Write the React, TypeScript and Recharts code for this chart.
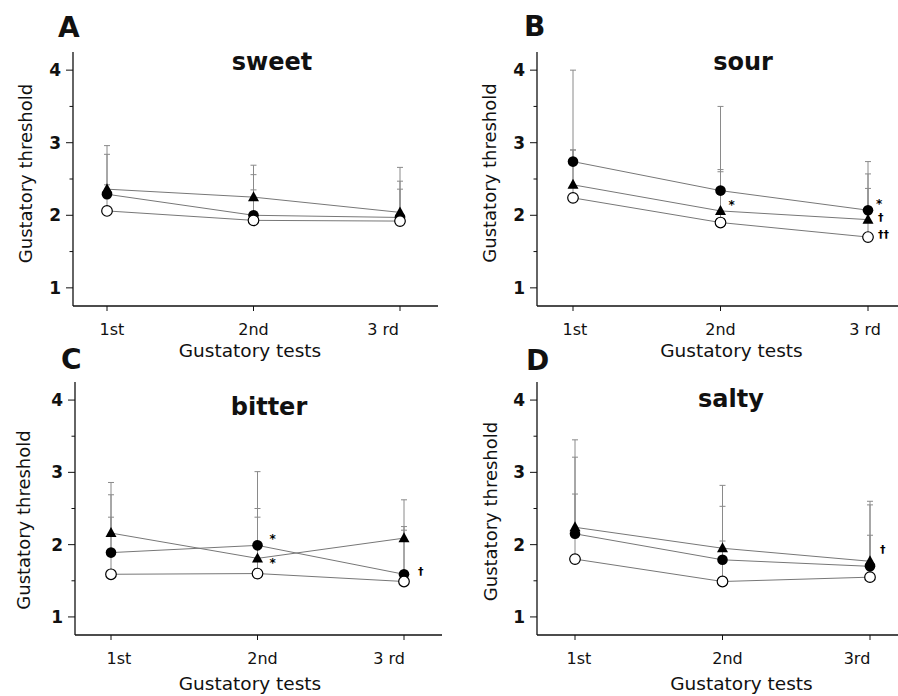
import React from "react";
import { LineChart, Line, XAxis, YAxis, ErrorBar, LabelList } from "recharts";

const FONT = "'DejaVu Sans', sans-serif";

const tests = ["1st", "2nd", "3 rd"];
const testsSalty = ["1st", "2nd", "3rd"];
const yTicks = [1, 1.5, 2, 2.5, 3, 3.5, 4];

// sweet (A)
const sweetTriangle = [2.36, 2.25, 2.04];
const sweetTriangleTop = [2.96, 2.69, 2.66];
const sweetFilled = [2.29, 2.0, 1.97];
const sweetFilledTop = [2.84, 2.56, 2.47];
const sweetOpen = [2.06, 1.93, 1.92];
const sweetOpenTop = [2.42, 2.35, 2.36];

// sour (B)
const sourTriangle = [2.42, 2.06, 1.94];
const sourTriangleTop = [2.9, 2.63, 2.57];
const sourFilled = [2.74, 2.34, 2.07];
const sourFilledTop = [4.0, 3.5, 2.74];
const sourOpen = [2.24, 1.9, 1.7];
const sourOpenTop = [2.9, 2.6, 2.37];
const sourTriangleMarks = ["", "*", "†"];
const sourFilledMarks = ["", "", "*"];
const sourOpenMarks = ["", "", "††"];

// bitter (C)
const bitterTriangle = [2.16, 1.81, 2.09];
const bitterTriangleTop = [2.86, 2.38, 2.62];
const bitterFilled = [1.89, 1.99, 1.59];
const bitterFilledTop = [2.69, 3.01, 2.25];
const bitterOpen = [1.59, 1.6, 1.49];
const bitterOpenTop = [2.38, 2.5, 2.2];
const bitterTriangleMarks = ["", "*", ""];
const bitterFilledMarks = ["", "*", "†"];

// salty (D)
const saltyTriangle = [2.24, 1.95, 1.77];
const saltyTriangleTop = [3.45, 2.82, 2.6];
const saltyFilled = [2.15, 1.79, 1.7];
const saltyFilledTop = [3.21, 2.53, 2.55];
const saltyOpen = [1.8, 1.49, 1.55];
const saltyOpenTop = [2.7, 2.05, 2.13];
const saltyTriangleMarks = ["", "", "†"];

const none = ["", "", ""];

const panels = [
  {
    letter: "A", title: "sweet", categories: tests,
    tri: sweetTriangle, triTop: sweetTriangleTop, triMarks: none,
    fil: sweetFilled, filTop: sweetFilledTop, filMarks: none,
    opn: sweetOpen, opnTop: sweetOpenTop, opnMarks: none,
    layout: {
      left: 0, top: 0, yAxisWidth: 73, marginTop: 52, marginRight: 11, xAxisHeight: 42,
      padLeft: 34, padRight: 38, tickDx: [5, 0, -17], triMarkDy: 0, filMarkDx: 0,
      letterAt: [58, 37], titleAt: [272, 70], yLabelAt: [31.5, 173.5], xLabelAt: [250, 357],
    },
  },
  {
    letter: "B", title: "sour", categories: tests,
    tri: sourTriangle, triTop: sourTriangleTop, triMarks: sourTriangleMarks,
    fil: sourFilled, filTop: sourFilledTop, filMarks: sourFilledMarks,
    opn: sourOpen, opnTop: sourOpenTop, opnMarks: sourOpenMarks,
    layout: {
      left: 449, top: 0, yAxisWidth: 88, marginTop: 52, marginRight: 0, xAxisHeight: 42,
      padLeft: 36, padRight: 30, tickDx: [2, 0, -3], triMarkDy: 0, filMarkDx: 0,
      letterAt: [524, 36], titleAt: [743, 70], yLabelAt: [495.5, 173], xLabelAt: [731.5, 357],
    },
  },
  {
    letter: "C", title: "bitter", categories: tests,
    tri: bitterTriangle, triTop: bitterTriangleTop, triMarks: bitterTriangleMarks,
    fil: bitterFilled, filTop: bitterFilledTop, filMarks: bitterFilledMarks,
    opn: bitterOpen, opnTop: bitterOpenTop, opnMarks: none,
    layout: {
      left: 0, top: 348, yAxisWidth: 75, marginTop: 34, marginRight: 7, xAxisHeight: 61,
      padLeft: 36, padRight: 38, tickDx: [8, 5, -15], triMarkDy: 11, filMarkDx: 4,
      letterAt: [61, 369], titleAt: [269, 415], yLabelAt: [29.5, 520], xLabelAt: [250, 689.5],
    },
  },
  {
    letter: "D", title: "salty", categories: testsSalty,
    tri: saltyTriangle, triTop: saltyTriangleTop, triMarks: saltyTriangleMarks,
    fil: saltyFilled, filTop: saltyFilledTop, filMarks: none,
    opn: saltyOpen, opnTop: saltyOpenTop, opnMarks: none,
    layout: {
      left: 449, top: 348, yAxisWidth: 88, marginTop: 34, marginRight: 0, xAxisHeight: 61,
      padLeft: 38, padRight: 28, tickDx: [4, 5, -13], triMarkDy: -9, filMarkDx: 0,
      letterAt: [526, 370], titleAt: [731, 407], yLabelAt: [496.5, 511.5], xLabelAt: [741.5, 690],
    },
  },
];

const TriangleDot = (props: any) => {
  const { cx, cy, index } = props;
  if (cx == null || cy == null) return <g key={`t${index}`} />;
  return (
    <polygon
      key={`t${index}`}
      points={`${cx},${cy - 6} ${cx - 5.5},${cy + 4} ${cx + 5.5},${cy + 4}`}
      fill="#000"
    />
  );
};

const FilledDot = (props: any) => {
  const { cx, cy, index } = props;
  if (cx == null || cy == null) return <g key={`f${index}`} />;
  return <circle key={`f${index}`} cx={cx} cy={cy} r={5.3} fill="#000" />;
};

const OpenDot = (props: any) => {
  const { cx, cy, index } = props;
  if (cx == null || cy == null) return <g key={`o${index}`} />;
  return <circle key={`o${index}`} cx={cx} cy={cy} r={5.3} fill="#fff" stroke="#000" strokeWidth={1.2} />;
};

// significance marks to the right of a point; shifts are per panel
const markRenderer = (shiftX: number, shiftY: number) => (props: any) => {
  const { value } = props;
  if (!value) return null;
  const vb = props.viewBox || {};
  const x = vb.x ?? props.x;
  const y = vb.y ?? props.y;
  const star = String(value).includes("*");
  return (
    <text
      x={x + (star ? 8 : 10) + shiftX}
      y={y + (star ? -2 : 1) + shiftY}
      fontSize={star ? 12 : 11}
      fontWeight="bold"
      fontFamily={FONT}
      fill="#000"
    >
      {value}
    </text>
  );
};

const XTick = (props: any) => {
  const { x, y, payload, index, dxs } = props;
  return (
    <text
      x={x + (dxs?.[index] ?? 0)}
      y={y}
      dy="0.71em"
      textAnchor="middle"
      fontSize={16}
      fontFamily={FONT}
      fill="#111"
    >
      {payload.value}
    </text>
  );
};

// tickSize 7 + tickMargin 5 => axis line sits 12px right of x
const YTick = (props: any) => {
  const { x, y, payload } = props;
  const axisX = x + 12;
  const major = Number.isInteger(payload.value);
  return (
    <g>
      <line x1={axisX - (major ? 7 : 3.5)} x2={axisX} y1={y} y2={y} stroke="#111" strokeWidth={1} />
      {major && (
        <text x={x} y={y} dy="0.36em" textAnchor="end" fontSize={17} fontWeight="bold" fontFamily={FONT} fill="#111">
          {payload.value}
        </text>
      )}
    </g>
  );
};

const Panel = ({ p }: { p: any }) => {
  const L = p.layout;
  const rows = p.categories.map((c: string, i: number) => ({
    test: c,
    tri: p.tri[i],
    triErr: [0, p.triTop[i] - p.tri[i]],
    triMark: p.triMarks[i],
    fil: p.fil[i],
    filErr: [0, p.filTop[i] - p.fil[i]],
    filMark: p.filMarks[i],
    opn: p.opn[i],
    opnErr: [0, p.opnTop[i] - p.opn[i]],
    opnMark: p.opnMarks[i],
  }));
  const axis = { stroke: "#111", strokeWidth: 1.3 };
  const errProps = { direction: "y" as const, width: 3, stroke: "#8a8a8a", strokeWidth: 1 };
  return (
    <div style={{ position: "absolute", left: L.left, top: L.top }}>
      <LineChart
        width={449}
        height={348}
        data={rows}
        margin={{ top: L.marginTop, right: L.marginRight, bottom: 0, left: 0 }}
      >
        <XAxis
          dataKey="test"
          type="category"
          padding={{ left: L.padLeft, right: L.padRight }}
          height={L.xAxisHeight}
          axisLine={axis}
          tickLine={{ stroke: "#111" }}
          tickSize={5}
          tickMargin={13}
          interval={0}
          tick={<XTick dxs={L.tickDx} />}
        />
        <YAxis
          type="number"
          domain={[0.75, 4.25]}
          allowDataOverflow
          ticks={yTicks}
          interval={0}
          width={L.yAxisWidth}
          axisLine={axis}
          tickLine={false}
          tickSize={7}
          tickMargin={5}
          tick={<YTick />}
        />
        {/* error bars first so markers sit on top */}
        <Line dataKey="tri" stroke="none" dot={false} activeDot={false} isAnimationActive={false}>
          <ErrorBar dataKey="triErr" {...errProps} />
        </Line>
        <Line dataKey="fil" stroke="none" dot={false} activeDot={false} isAnimationActive={false}>
          <ErrorBar dataKey="filErr" {...errProps} />
        </Line>
        <Line dataKey="opn" stroke="none" dot={false} activeDot={false} isAnimationActive={false}>
          <ErrorBar dataKey="opnErr" {...errProps} />
        </Line>
        <Line dataKey="tri" stroke="#777" strokeWidth={1} dot={TriangleDot} activeDot={false} isAnimationActive={false}>
          <LabelList dataKey="triMark" content={markRenderer(L.filMarkDx, L.triMarkDy)} />
        </Line>
        <Line dataKey="fil" stroke="#777" strokeWidth={1} dot={FilledDot} activeDot={false} isAnimationActive={false}>
          <LabelList dataKey="filMark" content={markRenderer(L.filMarkDx, 0)} />
        </Line>
        <Line dataKey="opn" stroke="#777" strokeWidth={1} dot={OpenDot} activeDot={false} isAnimationActive={false}>
          <LabelList dataKey="opnMark" content={markRenderer(0, 0)} />
        </Line>
      </LineChart>
    </div>
  );
};

export default function App() {
  return (
    <div style={{ position: "absolute", left: 0, top: 0, width: 898, height: 696, background: "#fff" }}>
      {panels.map((p) => (
        <Panel key={p.letter} p={p} />
      ))}
      <svg
        width={898}
        height={696}
        style={{ position: "absolute", left: 0, top: 0, pointerEvents: "none" }}
      >
        {panels.map((p) => {
          const L = p.layout;
          return (
            <g key={p.letter} fontFamily={FONT} fill="#111">
              <text x={L.letterAt[0]} y={L.letterAt[1]} fontSize={28} fontWeight="bold">
                {p.letter}
              </text>
              <text x={L.titleAt[0]} y={L.titleAt[1]} fontSize={24} fontWeight="bold" textAnchor="middle">
                {p.title}
              </text>
              <text
                transform={`translate(${L.yLabelAt[0]},${L.yLabelAt[1]}) rotate(-90)`}
                fontSize={18}
                textAnchor="middle"
              >
                Gustatory threshold
              </text>
              <text x={L.xLabelAt[0]} y={L.xLabelAt[1]} fontSize={18.5} textAnchor="middle">
                Gustatory tests
              </text>
            </g>
          );
        })}
      </svg>
    </div>
  );
}
